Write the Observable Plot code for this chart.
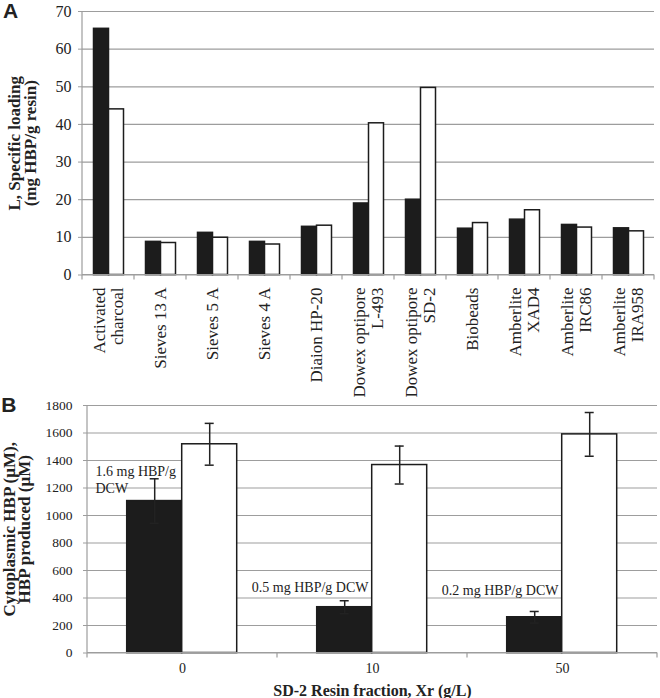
<!DOCTYPE html>
<html>
<head>
<meta charset="utf-8">
<script src="https://cdn.jsdelivr.net/npm/d3@7"></script>
<script src="https://cdn.jsdelivr.net/npm/@observablehq/plot@0.6"></script>
<style>
  body { margin: 0; background: #fff; }
  #chart { width: 660px; }
  #chart svg { display: block; }
  #chart g[aria-label="y-axis tick label"] { font-family: 'Liberation Serif', 'Times New Roman', serif; }
</style>
</head>
<body>
<div id="chart"></div>
<script>
// ---------- Panel A data ----------
const resins = ["Activated charcoal", "Sieves 13 A", "Sieves 5 A", "Sieves 4 A", "Diaion HP-20",
  "Dowex optipore L-493", "Dowex optipore SD-2", "Biobeads", "Amberlite XAD4", "Amberlite IRC86", "Amberlite IRA958"];
const resinLabels = ["Activated\ncharcoal", "Sieves 13 A", "Sieves 5 A", "Sieves 4 A", "Diaion HP-20",
  "Dowex optipore\nL-493", "Dowex optipore\nSD-2", "Biobeads", "Amberlite\nXAD4", "Amberlite\nIRC86", "Amberlite\nIRA958"];
const seriesA = ["Series 1", "Series 2"];
const loadingBlack = [65.4, 8.8, 11.2, 8.8, 12.8, 19.0, 20.0, 12.3, 14.7, 13.3, 12.4];
const loadingWhite = [44.0, 8.5, 9.9, 8.1, 13.1, 40.3, 49.7, 13.8, 17.2, 12.6, 11.6];
const yTicksA = [0, 10, 20, 30, 40, 50, 60, 70];
const yLabelA = "L, Specific loading\n(mg HBP/g resin)";

// ---------- Panel B data ----------
const fractions = ["0", "10", "50"];
const seriesB = ["Cytoplasmic HBP", "HBP produced"];
const cytoplasmic = [1105, 333, 260];
const cytoplasmicErr = [162, 47, 42];
const produced = [1518, 1367, 1590];
const producedErr = [152, 138, 159];
const notes = ["1.6 mg HBP/g\nDCW", "0.5 mg HBP/g DCW", "0.2 mg HBP/g DCW"];
const noteY = [1263, 476, 455];
const yTicksB = [0, 200, 400, 600, 800, 1000, 1200, 1400, 1600, 1800];
const yLabelB = "Cytoplasmic HBP (\u00b5M),\nHBP produced (\u00b5M)";
const xLabelB = "SD-2 Resin fraction, Xr (g/L)";

// ---------- styling ----------
const GRID = "#9d9d9d";
const INK = "#1c1c1c";
const SERIF = "'Liberation Serif', 'Times New Roman', serif";
const SANS = "'Liberation Sans', Arial, sans-serif";

const dataA = resins.flatMap((r, i) => [
  {resin: r, series: seriesA[0], value: loadingBlack[i]},
  {resin: r, series: seriesA[1], value: loadingWhite[i]}
]);
const labelRowsA = resins.map((r, i) => ({resin: r, label: resinLabels[i]}));

const dataB = fractions.flatMap((f, i) => [
  {fraction: f, series: seriesB[0], value: cytoplasmic[i], err: cytoplasmicErr[i]},
  {fraction: f, series: seriesB[1], value: produced[i], err: producedErr[i]}
]);
const noteRows = fractions.map((f, i) => ({fraction: f, note: notes[i], y: noteY[i]}));

function decorate(svg, domain) {
  const fx = svg.scale("fx"), y = svg.scale("y");
  const y0 = y.apply(0), yTop = y.apply(y.domain[1]);
  const xs = domain.map(d => fx.apply(d));
  xs.push(xs[xs.length - 1] + fx.bandwidth);
  const g = d3.select(svg).append("g").attr("stroke", GRID).attr("stroke-width", 1.2);
  g.selectAll("line.tick").data(xs).join("line")
    .attr("x1", d => d).attr("x2", d => d).attr("y1", y0).attr("y2", y0 + 5);
  g.append("line").attr("x1", xs[0]).attr("x2", xs[0]).attr("y1", yTop).attr("y2", y0);
  g.append("line").attr("x1", xs[0]).attr("x2", xs[xs.length - 1]).attr("y1", y0).attr("y2", y0);
}

const plotA = Plot.plot({
  width: 660, height: 390,
  marginTop: 11, marginBottom: 115.5, marginLeft: 80.5, marginRight: 5,
  style: {fontFamily: SERIF, fontSize: "16px", background: "#fff", color: "#222", overflow: "visible"},
  fx: {domain: resins, padding: 0, axis: null},
  x: {domain: seriesA, paddingInner: 0, paddingOuter: 0.705, axis: null},
  y: {domain: [0, 70], axis: null},
  color: {domain: seriesA, range: [INK, "#ffffff"]},
  marks: [
    Plot.gridY(yTicksA, {stroke: GRID, strokeOpacity: 1, strokeWidth: 1.2}),
    Plot.barY(dataA, {fx: "resin", x: "series", y: "value", fill: "series", stroke: INK, strokeWidth: 1.5}),
    Plot.axisY(yTicksA, {tickSize: 4, tickPadding: 7, stroke: GRID, fill: "#222", label: null,
      fontSize: 16, fontFamily: SERIF}),
    Plot.text(labelRowsA, {fx: "resin", text: "label", frameAnchor: "bottom", rotate: -90,
      textAnchor: "end", lineAnchor: "middle", dy: 12.5, lineHeight: 1.02, fontSize: 17, fill: "#222"}),
    Plot.text([yLabelA], {fx: () => resins[0], text: d => d, frameAnchor: "left", rotate: -90,
      textAnchor: "middle", lineAnchor: "middle", lineHeight: 0.97, dx: -60,
      fontWeight: "bold", fontSize: 17, fill: "#222"}),
    Plot.text(["A"], {fx: () => resins[0], text: d => d, frameAnchor: "top-left", textAnchor: "start",
      lineAnchor: "top", dx: -79.5, dy: -8, fontFamily: SANS, fontWeight: "bold", fontSize: 21, fill: "#222"})
  ]
});
decorate(plotA, resins);

const plotB = Plot.plot({
  width: 660, height: 308,
  marginTop: 15, marginBottom: 45.5, marginLeft: 87.3, marginRight: 2.7,
  style: {fontFamily: SERIF, fontSize: "13.5px", background: "#fff", color: "#222", overflow: "visible"},
  fx: {domain: fractions, padding: 0, axis: null},
  x: {domain: seriesB, paddingInner: 0, paddingOuter: 0.727, axis: null},
  y: {domain: [0, 1800], axis: null},
  color: {domain: seriesB, range: [INK, "#ffffff"]},
  marks: [
    Plot.gridY(yTicksB, {stroke: GRID, strokeOpacity: 1, strokeWidth: 1.2}),
    Plot.barY(dataB, {fx: "fraction", x: "series", y: "value", fill: "series", stroke: INK, strokeWidth: 1.5}),
    Plot.ruleX(dataB, {fx: "fraction", x: "series", y1: d => d.value - d.err, y2: d => d.value + d.err,
      stroke: "#222", strokeWidth: 1.5}),
    Plot.tickY(dataB, {fx: "fraction", x: "series", y: d => d.value + d.err, insetLeft: 23, insetRight: 23,
      stroke: "#222", strokeWidth: 1.5}),
    Plot.tickY(dataB, {fx: "fraction", x: "series", y: d => d.value - d.err, insetLeft: 23, insetRight: 23,
      stroke: "#222", strokeWidth: 1.5}),
    Plot.axisY(yTicksB, {tickSize: 4, tickPadding: 11, stroke: GRID, fill: "#222", label: null,
      tickFormat: d3.format("d"), fontSize: 13.5, fontFamily: SERIF}),
    Plot.text(fractions, {fx: d => d, text: d => d, frameAnchor: "bottom", lineAnchor: "middle",
      dy: 15.5, fontSize: 14, fill: "#222"}),
    Plot.text([xLabelB], {fx: () => fractions[1], text: d => d, frameAnchor: "bottom", lineAnchor: "middle",
      dy: 37.5, fontWeight: "bold", fontSize: 16, fill: "#222"}),
    Plot.text(noteRows.slice(0, 1), {fx: "fraction", y: "y", text: "note", textAnchor: "start",
      lineAnchor: "middle", lineHeight: 1.2, dx: -87, fontSize: 14, fill: "#222"}),
    Plot.text(noteRows.slice(1), {fx: "fraction", y: "y", text: "note", textAnchor: "end",
      lineAnchor: "middle", dx: -4, fontSize: 14, fill: "#222"}),
    Plot.text([yLabelB], {fx: () => fractions[0], text: d => d, frameAnchor: "left", rotate: -90,
      textAnchor: "middle", lineAnchor: "middle", lineHeight: 0.93, dx: -70,
      fontWeight: "bold", fontSize: 17, fill: "#222"}),
    Plot.text(["B"], {fx: () => fractions[0], text: d => d, frameAnchor: "top-left", textAnchor: "start",
      lineAnchor: "top", dx: -86.3, dy: -8, fontFamily: SANS, fontWeight: "bold", fontSize: 21, fill: "#222"})
  ]
});
decorate(plotB, fractions);

document.getElementById("chart").append(plotA, plotB);
</script>
</body>
</html>
